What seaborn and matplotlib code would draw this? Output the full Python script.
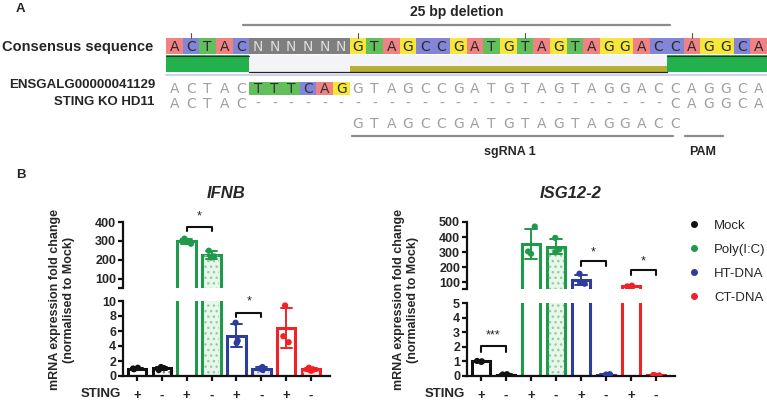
import numpy as np
import pandas as pd
import matplotlib.pyplot as plt
import seaborn as sns
from matplotlib.patches import Rectangle
from matplotlib.lines import Line2D

sns.set_style("ticks")
plt.rcParams['font.family'] = ['Liberation Sans', 'DejaVu Sans']
np.random.seed(4)  # only for strip jitter

# ---------------- panel A : alignment ----------------
consensus = "ACTACNNNNNNGTAGCCGATGTAGTAGGACCAGGCA"
ref_seq = "ACTACTTTCAGGTAGCCGATGTAGTAGGACCAGGCA"
ko_seq = "ACTAC" + "-" * 25 + "CAGGCA"
sgrna_seq = "GTAGCCGATGTAGTAGGACC"
sgrna_start = 11
ref_highlight = [5, 6, 7, 8, 9, 10]
tick_pos = [1, 11, 21, 31]
base_colors = {'A': '#f08284', 'C': '#8386d6', 'T': '#62bf5c',
               'G': '#f7e73a', 'N': '#7f7f7f'}

# ---------------- panel B : qPCR ----------------
groups = ['Mock', 'Poly(I:C)', 'HT-DNA', 'CT-DNA']
sting = ['+', '-']
colors = ['#111111', '#1f9a4a', '#2c3d9c', '#ee2227']
light = ['#ffffff', '#e9f6ec', '#eceefa', '#fdeaea']
dots = ['#888888', '#8fd09e', '#9aa2dc', '#f5a0a0']

# replicates, order: Mock+, Mock-, Poly+, Poly-, HT+, HT-, CT+, CT-
ifnb_reps = [
    [0.9, 1.0, 1.1],
    [0.8, 1.05, 1.2],
    [285, 300, 312],
    [212, 218, 248],
    [4.4, 4.7, 7.1],
    [0.8, 1.0, 1.2],
    [4.5, 5.3, 9.4],
    [0.7, 0.9, 1.1],
]
isg_reps = [
    [0.97, 1.0, 1.03],
    [0.08, 0.1, 0.12],
    [290, 305, 470],
    [300, 318, 395],
    [92, 100, 158],
    [0.08, 0.1, 0.12],
    [68, 74, 79],
    [0.04, 0.05, 0.06],
]

W, H = 767, 401
fig = plt.figure(figsize=(W / 100, H / 100), dpi=100)

axA = fig.add_axes([0, 0, 1, 1])
axA.set_xlim(0, W)
axA.set_ylim(H, 0)
axA.axis('off')

x0 = 166
cw = 601 / 36
seqfont = dict(family='DejaVu Sans', fontsize=10, ha='center', va='baseline')

axA.text(16, 11.7, 'A', fontsize=9.5, fontweight='bold', va='baseline')
axA.text(16, 178, 'B', fontsize=9.5, fontweight='bold', va='baseline')
axA.text(457, 12, '25 bp deletion', fontsize=10, fontweight='bold', ha='center', va='center')
axA.plot([243, 670], [25, 25], color='#8c8c8c', lw=1.6)

axA.text(153, 51.5, 'Consensus sequence', fontsize=10.5, fontweight='bold', ha='right', va='baseline')
axA.text(155, 88.5, 'ENSGALG00000041129', fontsize=9.5, fontweight='bold', ha='right', va='baseline')
axA.text(154, 105, 'STING KO HD11', fontsize=9.5, fontweight='bold', ha='right', va='baseline')

for i, b in enumerate(consensus):
    axA.add_patch(Rectangle((x0 + i * cw, 38), cw, 16, facecolor=base_colors[b], lw=0))
    axA.text(x0 + (i + 0.5) * cw, 51, b, color='#dcdcdc' if b == 'N' else '#2a2a2a', **seqfont)
for p in tick_pos:
    axA.plot([x0 + (p + 0.5) * cw] * 2, [33, 38], color='#555555', lw=0.8)

# coverage track
axA.add_patch(Rectangle((x0, 55), 601, 18, facecolor='#f3f3f8', lw=0))
axA.add_patch(Rectangle((x0, 55), 5 * cw, 17, facecolor='#22b14c', lw=0))
axA.add_patch(Rectangle((x0 + 30 * cw, 55), 6 * cw, 17, facecolor='#22b14c', lw=0))
axA.add_patch(Rectangle((x0 + 11 * cw, 66), 19 * cw, 6, facecolor='#b6b034', lw=0))
axA.plot([x0, x0 + 5 * cw], [55.5, 55.5], color='#1d3d25', lw=0.8)
axA.plot([x0 + 30 * cw, W], [55.5, 55.5], color='#1d3d25', lw=0.8)
axA.plot([x0 + 5 * cw, x0 + 30 * cw], [72, 72], color='#222222', lw=0.9)
axA.plot([x0, W], [75, 75], color='#cfd3f0', lw=1.5)

for i, b in enumerate(ref_seq):
    if i in ref_highlight:
        axA.add_patch(Rectangle((x0 + i * cw, 82), cw, 13, facecolor=base_colors[b], lw=0))
        axA.text(x0 + (i + 0.5) * cw, 93, b, color='#333333', **seqfont)
    else:
        axA.text(x0 + (i + 0.5) * cw, 93, b, color='#a0a0a0', **seqfont)
for i, b in enumerate(ko_seq):
    axA.text(x0 + (i + 0.5) * cw, 108, b, color='#a0a0a0', **seqfont)
for i, b in enumerate(sgrna_seq):
    axA.text(x0 + (sgrna_start + i + 0.5) * cw, 128, b, color='#a0a0a0', **seqfont)

axA.plot([352, 673], [136, 136], color='#8c8c8c', lw=1.6)
axA.plot([685, 723], [136, 136], color='#8c8c8c', lw=1.6)
axA.text(510, 155, 'sgRNA 1', fontsize=9, fontweight='bold', ha='center', va='baseline')
axA.text(703, 155, 'PAM', fontsize=9, fontweight='bold', ha='center', va='baseline')

# ---------------- panel B ----------------
conds = [f'{g} {s}' for g in groups for s in sting]


def px_axes(xa, ya, xb, yb):
    ax = fig.add_axes([xa / W, 1 - yb / H, (xb - xa) / W, (yb - ya) / H])
    ax.set_facecolor('none')
    return ax


def make_df(reps):
    rows = []
    for k, vals in enumerate(reps):
        for v in vals:
            rows.append({'cond': conds[k], 'group': groups[k // 2], 'value': v})
    return pd.DataFrame(rows)


def draw(ax, df, xlim):
    pal = dict(zip(groups, colors))
    sns.barplot(data=df, x='cond', y='value', hue='group', order=conds, hue_order=groups,
                palette=pal, errorbar='sd', capsize=0.45, err_kws={'linewidth': 1.4},
                fill=False, linewidth=2.2, width=0.74, legend=False, ax=ax)
    for p in ax.patches:
        k = int(round(p.get_x() + p.get_width() / 2))
        g = k // 2
        p.set_fill(True)
        if k % 2 == 1:
            p.set_facecolor(light[g])
            w = p.get_width()
            ax.add_patch(Rectangle((p.get_x() + 0.08 * w, p.get_y()), 0.84 * w, p.get_height(),
                                   facecolor='none', edgecolor=dots[g], lw=0, hatch='...', zorder=1.2))
        else:
            p.set_facecolor('white')
    sns.stripplot(data=df, x='cond', y='value', hue='group', order=conds, hue_order=groups,
                  palette=pal, size=4.5, jitter=0.18, legend=False, ax=ax, zorder=4)
    ax.set_xlim(*xlim)
    ax.set_xlabel('')
    ax.set_ylabel('')
    for s in ['top', 'right']:
        ax.spines[s].set_visible(False)
    for s in ['left', 'bottom']:
        ax.spines[s].set_linewidth(1.6)
        ax.spines[s].set_color('#111111')
    ax.tick_params(width=1.6, length=3.5, labelsize=9, color='#111111', pad=1.5)
    for t in ax.get_yticklabels() + ax.get_xticklabels():
        t.set_fontweight('bold')


def bracket(ax, xa, xb, y, drop, star, ystar):
    ax.plot([xa, xa, xb, xb], [y - drop, y, y, y - drop], color='#111111', lw=1.5, clip_on=False)
    ax.text((xa + xb) / 2, ystar, star, ha='center', va='center', fontsize=9)


def gene_panel(reps, xa, xb, top_px, bot_px, top_lim, bot_lim, top_ticks, bot_ticks, title):
    df = make_df(reps)
    xl = (-0.56, 7.76)
    axt = px_axes(xa, top_px[0], xb, top_px[1])
    axb = px_axes(xa, bot_px[0], xb, bot_px[1])
    draw(axt, df, xl)
    draw(axb, df, xl)
    axt.set_ylim(*top_lim)
    axt.set_yticks([top_lim[0]] + top_ticks)
    axt.set_yticklabels([''] + [str(t) for t in top_ticks], fontweight='bold')
    axt.spines['bottom'].set_visible(False)
    axt.tick_params(axis='x', bottom=False, labelbottom=False)
    axb.set_ylim(*bot_lim)
    axb.set_yticks(bot_ticks)
    axb.set_yticklabels([str(t) for t in bot_ticks], fontweight='bold')
    axb.set_xticks(range(8))
    axb.set_xticklabels(sting * 4, fontweight='bold', fontsize=9.5)
    axb.tick_params(axis='x', pad=6.5)
    fig.text((xa + xb) / 2 / W, 1 - 193 / H, title, ha='center', va='center',
             fontsize=12, fontweight='bold', style='italic')
    fig.text((xa - 61) / W, 1 - 300 / H, 'mRNA expression fold change\n(normalised to Mock)',
             rotation=90, ha='center', va='center', fontsize=9, fontweight='bold',
             multialignment='center', linespacing=1.15)
    fig.text((xa - 2) / W, 1 - 394 / H, 'STING', ha='right', va='center', fontsize=9.5, fontweight='bold')
    return axt, axb


t1, b1 = gene_panel(ifnb_reps, 123, 330, (222, 288), (301, 376), (51, 400), (0, 10),
                    [100, 200, 300, 400], [0, 2, 4, 6, 8, 10], 'IFNB')
bracket(t1, 2, 3, 374, 22, '*', 431)
bracket(b1, 4, 5, 8.4, 0.5, '*', 9.9)

t2, b2 = gene_panel(isg_reps, 467, 675, (222, 289), (303, 376), (57, 500), (0, 5),
                    [100, 200, 300, 400, 500], [0, 1, 2, 3, 4, 5], 'ISG12-2')
bracket(b2, 0, 1, 2.05, 0.4, '***', 2.8)
bracket(t2, 4, 5, 240, 33, '*', 300)
bracket(t2, 6, 7, 180, 33, '*', 240)

handles = [Line2D([], [], marker='o', ls='', color=c, markersize=4) for c in colors]
fig.legend(handles, groups, loc='upper left', bbox_to_anchor=(676 / W, 1 - 208 / H),
           frameon=False, fontsize=9.5, handletextpad=1.0, labelspacing=0.88,
           handlelength=1.0)

fig.savefig('out.png', dpi=100)
